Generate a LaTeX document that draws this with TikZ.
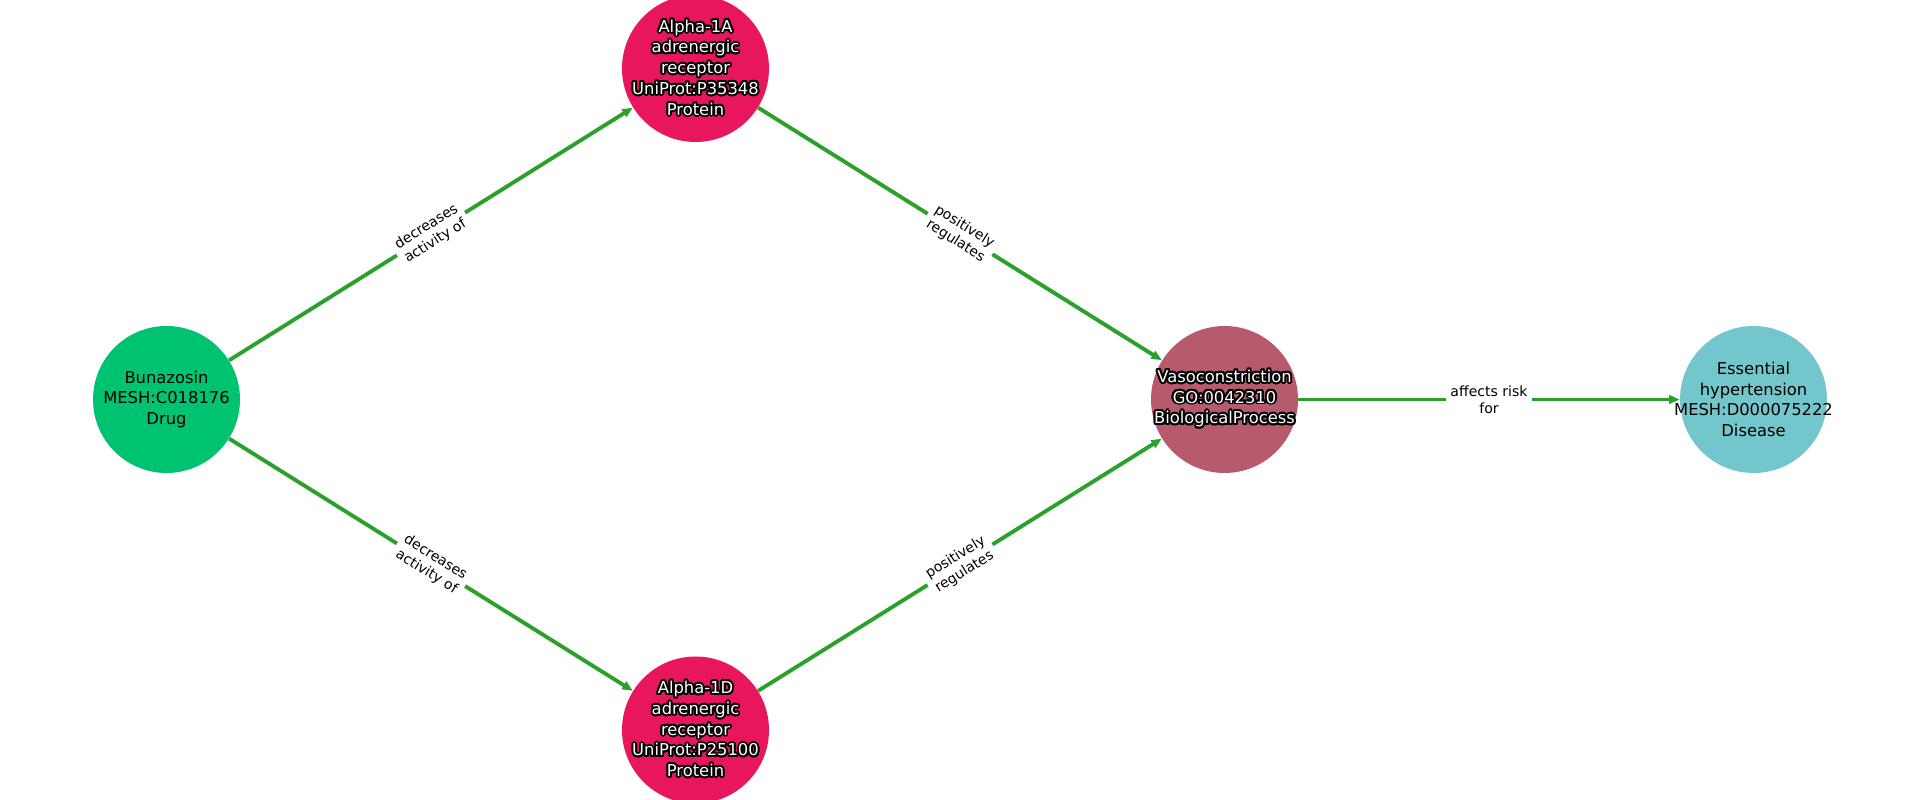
\documentclass[tikz,border=0pt]{standalone}
\usepackage{fontspec}
\setmainfont{DejaVu Sans}
\usepackage[copies]{contour}
\usetikzlibrary{arrows.meta}

\definecolor{drugcol}{HTML}{00C371}
\definecolor{protcol}{HTML}{E8175D}
\definecolor{proccol}{HTML}{B85A6E}
\definecolor{discol}{HTML}{72C6CC}
\definecolor{edgecol}{HTML}{2CA02C}

\contourlength{1.1pt}
\newcommand{\outl}[1]{\contour{black}{#1}}

\begin{document}
\begin{tikzpicture}[
    entity/.style = {circle, minimum size=2.94cm, inner sep=0pt},
    nodetext/.style = {align=center, inner sep=0pt, font=\fontsize{9.3}{11.8}\selectfont},
    lighttext/.style = {nodetext, text=white},
    relation/.style = {-{Triangle[length=6pt,width=4.8pt]}, draw=edgecol, line width=2.2pt},
    rellabel/.style = {fill=white, text=black, align=center, font=\fontsize{8}{9.6}\selectfont, inner xsep=2.5pt, inner ysep=1pt}
]
    \useasboundingbox (0,0) rectangle (38.4,16);
    % nodes
    \node[entity, fill=drugcol, label={[nodetext]center:{Bunazosin\\MESH:C018176\\Drug}}] (bunazosin) at (3.33,8.01) {};
    \node[entity, fill=protcol, label={[lighttext]center:{\outl{Alpha-1A}\\\outl{adrenergic}\\\outl{receptor}\\\outl{UniProt:P35348}\\\outl{Protein}}}] (alphaA) at (13.91,14.63) {};
    \node[entity, fill=protcol, label={[lighttext]center:{\outl{Alpha-1D}\\\outl{adrenergic}\\\outl{receptor}\\\outl{UniProt:P25100}\\\outl{Protein}}}] (alphaD) at (13.91,1.40) {};
    \node[entity, fill=proccol, label={[lighttext]center:{\outl{Vasoconstriction}\\\outl{GO:0042310}\\\outl{BiologicalProcess}}}] (vaso) at (24.49,8.01) {};
    \node[entity, fill=discol, label={[nodetext]center:{Essential\\hypertension\\MESH:D000075222\\Disease}}] (hyper) at (35.07,8.01) {};

    % edges
    \draw[relation] (bunazosin) -- (alphaA) node[midway, sloped, rellabel] {decreases\\activity of};
    \draw[relation] (bunazosin) -- (alphaD) node[midway, sloped, rellabel] {decreases\\activity of};
    \draw[relation] (alphaA) -- (vaso) node[midway, sloped, rellabel] {positively\\regulates};
    \draw[relation] (alphaD) -- (vaso) node[midway, sloped, rellabel] {positively\\regulates};
    \draw[relation] (vaso) -- (hyper) node[midway, rellabel] {affects risk\\for};
\end{tikzpicture}
\end{document}
